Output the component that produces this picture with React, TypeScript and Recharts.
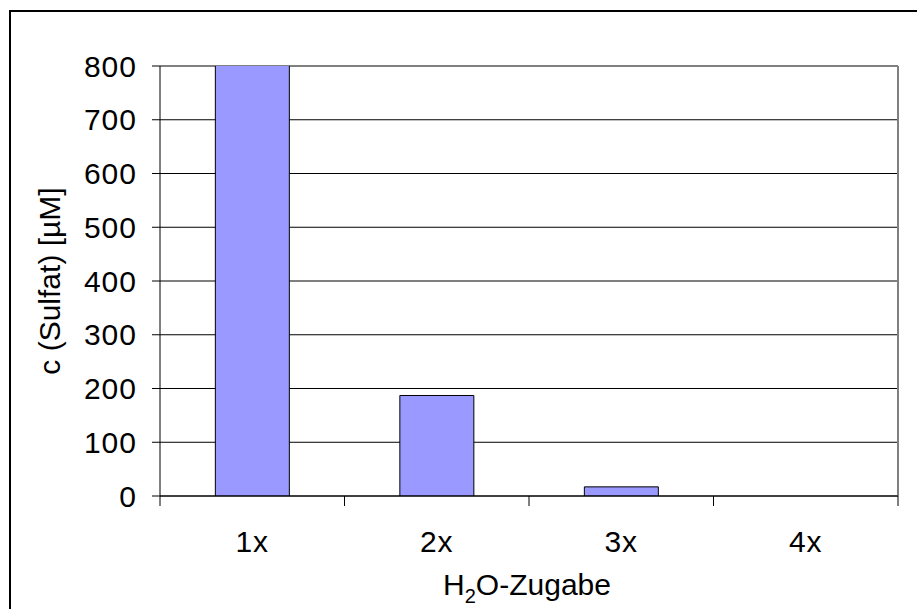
import { BarChart, Bar, XAxis, YAxis, CartesianGrid } from "recharts"

const categories = ["1x", "2x", "3x", "4x"]
const sulfat = [806, 187, 17, 0]
const yTicks = [0, 100, 200, 300, 400, 500, 600, 700, 800]

const data = categories.map((name, i) => ({ name, sulfat: sulfat[i] }))

const W = 917
const H = 609
const MARGIN = { top: 66, right: 19, left: 0, bottom: 0 }
const font = "'Liberation Sans', Arial, sans-serif"

// x labels sit in the band centre, tick marks on the band edges
function CategoryTick(props: any) {
  const { x, y, payload, index, visibleTicksCount } = props
  const band = (props.width ?? 738) / visibleTicksCount
  return (
    <g>
      <line x1={x - band / 2} x2={x - band / 2} y1={y} y2={y + 10} stroke="#000" />
      {index === visibleTicksCount - 1 && (
        <line x1={x + band / 2} x2={x + band / 2} y1={y} y2={y + 10} stroke="#000" />
      )}
      <text x={x} y={y + 35} dy="0.71em" textAnchor="middle" fontSize={30} letterSpacing={1} fill="#000" fontFamily={font}>
        {payload.value}
      </text>
    </g>
  )
}

function XTitle(props: any) {
  const { viewBox } = props
  return (
    <text x={viewBox.x + viewBox.width / 2 - 2} y={viewBox.y + 99} textAnchor="middle" fontSize={30} fill="#000" fontFamily={font}>
      H
      <tspan dy={8} fontSize={20}>2</tspan>
      <tspan dy={-8}>O-Zugabe</tspan>
    </text>
  )
}

function YTitle(props: any) {
  const { viewBox } = props
  const cx = viewBox.x + 49
  const cy = viewBox.y + viewBox.height / 2
  return (
    <text
      x={cx}
      y={cy}
      transform={`rotate(-90 ${cx} ${cy})`}
      textAnchor="middle"
      dominantBaseline="central"
      fontSize={30}
      fill="#000"
      fontFamily={font}
    >
      c (Sulfat) [µM]
    </text>
  )
}

export default function App() {
  return (
    <div style={{ position: "absolute", left: 0, top: 0, width: W, height: H, overflow: "hidden", background: "#fff" }}>
      <div
        style={{
          position: "absolute",
          left: 9,
          top: 10,
          width: 1000,
          height: 700,
          borderLeft: "2px solid #000",
          borderTop: "2px solid #000",
        }}
      />
      <div style={{ position: "absolute", left: 0, top: 0 }}>
        <BarChart width={W} height={H} data={data} margin={MARGIN} barCategoryGap="30%">
          <CartesianGrid vertical={false} stroke="#000" />
          {/* plot area frame: grey top and right edge */}
          <CartesianGrid
            stroke="#808080"
            strokeWidth={2}
            horizontalPoints={[MARGIN.top]}
            verticalPoints={[W - MARGIN.right]}
          />
          <XAxis
            dataKey="name"
            height={113}
            tickSize={0}
            tickMargin={0}
            tickLine={false}
            axisLine={{ stroke: "#000" }}
            tick={<CategoryTick />}
            label={<XTitle />}
          />
          <YAxis
            width={160}
            domain={[0, 800]}
            allowDataOverflow
            ticks={yTicks}
            interval={0}
            tickSize={8}
            tickMargin={15}
            axisLine={{ stroke: "#000" }}
            tickLine={{ stroke: "#000" }}
            tick={{ fontSize: 30, fill: "#000", fontFamily: font, letterSpacing: 1 }}
            label={<YTitle />}
          />
          <Bar dataKey="sulfat" fill="#9999FF" stroke="#000" strokeWidth={1} isAnimationActive={false} />
        </BarChart>
      </div>
    </div>
  )
}
